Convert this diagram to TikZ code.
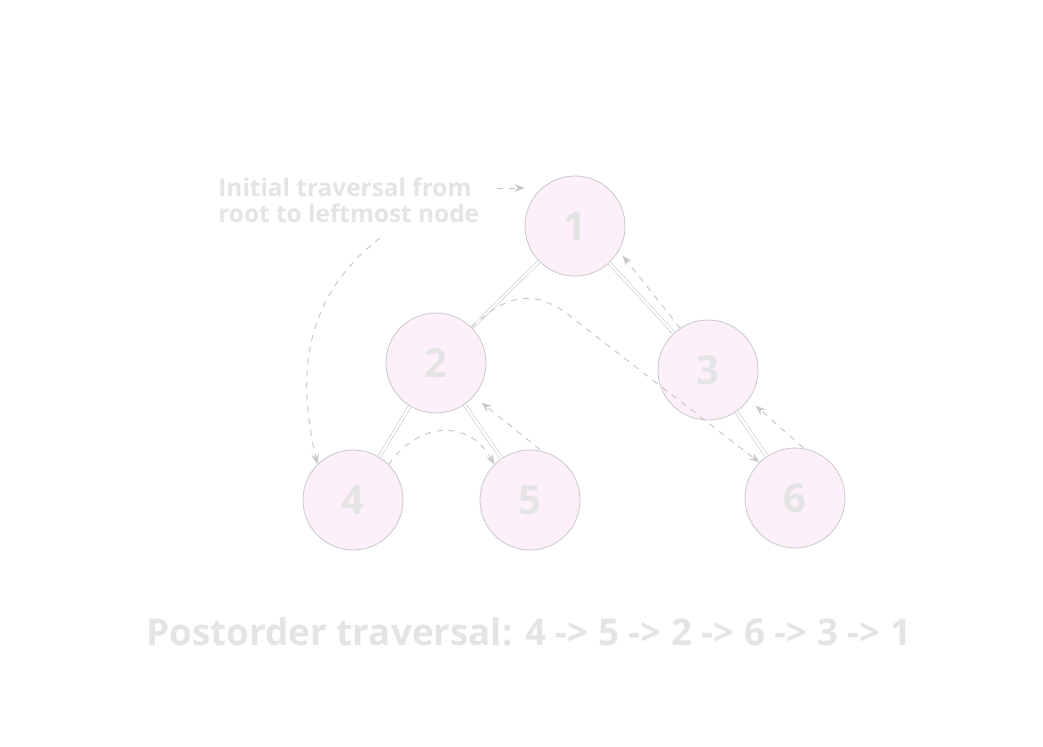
\documentclass[tikz,border=0pt]{standalone}
\usepackage{fontspec}
\setmainfont{Open Sans}
\usetikzlibrary{arrows.meta}
\definecolor{nodefill}{HTML}{FDF0FB}
\definecolor{faint}{HTML}{C8C8C8}
\definecolor{txt}{HTML}{E4E4E4}
\begin{document}
\begin{tikzpicture}[x=0.5pt,y=-0.5pt,
  treenode/.style={circle, minimum size=50pt, inner sep=0pt, fill=nodefill, draw=faint, line width=0.4pt, text=txt, font=\fontsize{20}{20}\selectfont\bfseries},
  treeedge/.style={draw=faint, double=white, double distance=1.2pt, line width=0.3pt},
  trav/.style={draw=faint, dashed, line width=0.5pt, -{Stealth[length=5pt]}},
  lbl/.style={text=txt, font=\fontsize{12.2}{13}\selectfont\bfseries, align=left}]
\useasboundingbox (0,0) rectangle (1043,746);
\node[treenode] (n1) at (575,226) {1};
\node[treenode] (n2) at (436,363) {2};
\node[treenode] (n3) at (708,370) {3};
\node[treenode] (n4) at (353,500) {4};
\node[treenode] (n5) at (530,500) {5};
\node[treenode] (n6) at (795,498) {6};
\draw[treeedge] (n1) -- (n2);
\draw[treeedge] (n1) -- (n3);
\draw[treeedge] (n2) -- (n4);
\draw[treeedge] (n2) -- (n5);
\draw[treeedge] (n3) -- (n6);
\node[lbl, anchor=west, inner sep=0pt] (lab) at (218,200) {Initial traversal from\\root to leftmost node};
\coordinate (labend) at (497,188);
\draw[trav] (labend) -- (n1.west |- labend);
\coordinate (labbot) at (380,238);
\draw[trav] (labbot) .. controls (300,300) and (298,380) .. (n4.north west);
\draw[trav] (n4.north east) .. controls (420,420) and (470,420) .. (n5.north west);
\draw[trav] ([xshift=5pt]n5.north) -- ([xshift=5pt,yshift=-2pt]n2.south east);
\draw[trav] (n2.north east) .. controls (510,290) and (540,290) .. (575,320) -- (n6.north west);
\draw[trav] ([xshift=4pt]n6.north) -- ([xshift=6pt]n3.south east);
\draw[trav] ([xshift=4pt,yshift=3pt]n3.north west) -- ([xshift=6pt,yshift=3pt]n1.south east);
\node[text=txt, font=\fontsize{18.4}{22}\selectfont\bfseries] (title) at (529,632) {Postorder traversal: 4 -{}> 5 -{}> 2 -{}> 6 -{}> 3 -{}> 1};
\end{tikzpicture}
\end{document}
